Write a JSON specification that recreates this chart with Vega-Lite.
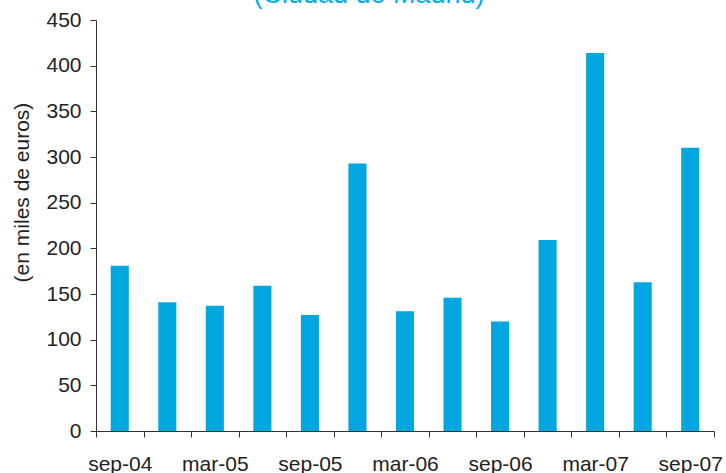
{
  "$schema": "https://vega.github.io/schema/vega-lite/v6.json",
  "width": 618,
  "height": 411,
  "autosize": {"type": "none"},
  "padding": {"left": 96, "top": 20, "right": 12, "bottom": 42},
  "background": "white",
  "title": {
    "text": "(Ciudad de Madrid)",
    "color": "#00AEEF",
    "fontSize": 27,
    "font": "Liberation Sans",
    "fontWeight": "normal",
    "anchor": "middle",
    "frame": "group",
    "dx": -36,
    "dy": 25,
    "offset": 4,
    "baseline": "alphabetic",
    "orient": "top"
  },
  "config": {"view": {"stroke": null}},
  "data": {
    "values": [
      {"periodo": "sep-04", "valor": 181},
      {"periodo": "dic-04", "valor": 141},
      {"periodo": "mar-05", "valor": 137},
      {"periodo": "jun-05", "valor": 159},
      {"periodo": "sep-05", "valor": 127},
      {"periodo": "dic-05", "valor": 293},
      {"periodo": "mar-06", "valor": 131},
      {"periodo": "jun-06", "valor": 146},
      {"periodo": "sep-06", "valor": 120},
      {"periodo": "dic-06", "valor": 209},
      {"periodo": "mar-07", "valor": 414},
      {"periodo": "jun-07", "valor": 163},
      {"periodo": "sep-07", "valor": 310}
    ]
  },
  "mark": {"type": "bar", "color": "#00A6DE", "width": {"band": 0.38}},
  "encoding": {
    "x": {
      "field": "periodo",
      "type": "ordinal",
      "sort": null,
      "scale": {"paddingInner": 0, "paddingOuter": 0},
      "axis": {
        "title": null,
        "tickBand": "extent",
        "labelExpr": "indexof(['sep-04','mar-05','sep-05','mar-06','sep-06','mar-07','sep-07'], datum.label) >= 0 ? datum.label : ''",
        "labelAngle": 0,
        "labelFont": "Liberation Sans",
        "labelFontSize": 21,
        "labelColor": "#222222",
        "labelBaseline": "alphabetic",
        "labelPadding": 33,
        "labelOverlap": false,
        "labelFlush": false,
        "labelBound": false,
        "tickSize": 6,
        "tickColor": "#333333",
        "domainColor": "#333333",
        "grid": false
      }
    },
    "y": {
      "field": "valor",
      "type": "quantitative",
      "scale": {"domain": [0, 450], "nice": false},
      "axis": {
        "title": "(en miles de euros)",
        "titleFont": "Liberation Sans",
        "titleFontSize": 21,
        "titleFontWeight": "normal",
        "titleColor": "#222222",
        "titleAngle": -90,
        "titleX": -74,
        "titleY": 172,
        "titleAlign": "center",
        "titleBaseline": "middle",
        "values": [0, 50, 100, 150, 200, 250, 300, 350, 400, 450],
        "labelFont": "Liberation Sans",
        "labelFontSize": 21,
        "labelColor": "#222222",
        "labelPadding": 9,
        "tickSize": 6,
        "tickColor": "#333333",
        "domainColor": "#333333",
        "grid": false
      }
    }
  }
}
